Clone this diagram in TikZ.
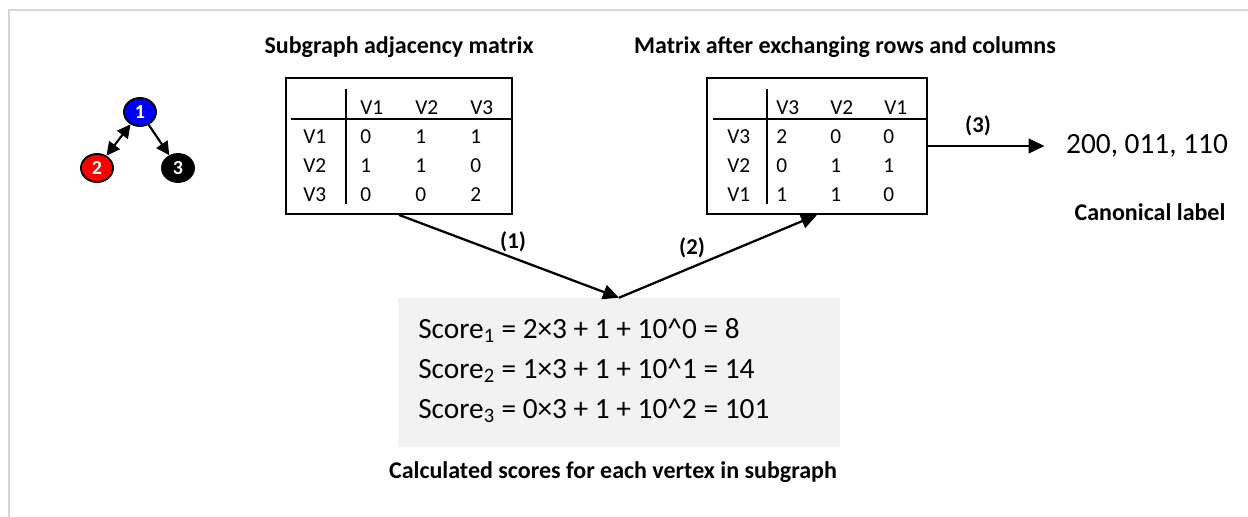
\documentclass[tikz,border=0pt]{standalone}
\usepackage{fontspec}
\setmainfont{Carlito}
\usetikzlibrary{arrows.meta,shapes.geometric}

\begin{document}
\begin{tikzpicture}[x=0.75pt,y=-0.75pt,
  frameline/.style={draw=black!16, line width=1.2pt},
  vtx/.style={ellipse, draw=black, line width=1.4pt, minimum width=24pt,
    minimum height=21pt, inner sep=0pt, text=white,
    font=\fontsize{15}{15}\selectfont\bfseries},
  gedge/.style={line width=1.6pt, -{Triangle[length=10pt,width=10pt]}},
  link/.style={line width=1.7pt, -{Triangle[length=12pt,width=11pt]}},
  tbl/.style={draw=black, line width=1.4pt, minimum width=#1, minimum height=102pt, inner sep=0pt},
  rule/.style={line width=1.4pt},
  cell/.style={anchor=base west, inner sep=0pt, font=\fontsize{16}{16}\selectfont},
  title/.style={anchor=base, inner sep=0pt, font=\fontsize{18}{18}\selectfont\bfseries},
  steplab/.style={inner sep=0pt, font=\fontsize{17}{17}\selectfont\bfseries},
  scoreline/.style={anchor=base west, inner sep=0pt, font=\fontsize{22}{22}\selectfont},
]
\useasboundingbox (0,0) rectangle (1248,517);

% outer frame
\draw[frameline] (9,517) -- (9,10) -- (1248,10);

% small example subgraph
\node[vtx, fill=blue] (v1) at (140,112) {1};
\node[vtx, fill=red]  (v2) at (97,168) {2};
\node[vtx, fill=black] (v3) at (178,168) {3};
\draw[gedge, {Triangle[length=10pt,width=10pt]}-{Triangle[length=10pt,width=10pt]}] (v1) -- (v2);
\draw[gedge] (v1) -- (v3);

% adjacency matrix
\node[title] (t1title) at (399,54) {Subgraph adjacency matrix};
\node[tbl=169.5pt] (t1) at (399,146) {};
\draw[rule] (346,89) -- (346,204);
\draw[rule] (291,119) -- (t1.east |- 0,119);
\foreach \h [count=\i] in {V1,V2,V3}
  \node[cell] at ({305+55*\i},114) {\h};
\foreach \lab/\a/\b/\c [count=\r] in {V1/0/1/1, V2/1/1/0, V3/0/0/2} {
  \pgfmathsetmacro{\yb}{114+29*\r}
  \node[cell] at (303,\yb) {\lab};
  \node[cell] at (360,\yb) {\a};
  \node[cell] at (415,\yb) {\b};
  \node[cell] at (470,\yb) {\c};
}

% reordered matrix
\node[title] (t2title) at (845,54) {Matrix after exchanging rows and columns};
\node[tbl=165pt] (t2) at (817,146) {};
\draw[rule] (767,89) -- (767,204);
\draw[rule] (713,119) -- (t2.east |- 0,119);
\foreach \h [count=\i] in {V3,V2,V1}
  \node[cell] at ({722+54*\i},114) {\h};
\foreach \lab/\a/\b/\c [count=\r] in {V3/2/0/0, V2/0/1/1, V1/1/1/0} {
  \pgfmathsetmacro{\yb}{114+29*\r}
  \node[cell] at (727,\yb) {\lab};
  \node[cell] at (776,\yb) {\a};
  \node[cell] at (830,\yb) {\b};
  \node[cell] at (883,\yb) {\c};
}

% vertex scores
\node[fill=black!5, minimum width=331.5pt, minimum height=111.75pt, inner sep=0pt] (s) at (619,372.5) {};
\node[scoreline] at (418,338) {Score\textsubscript{1} = 2×3 + 1 + 10\textasciicircum0 = 8};
\node[scoreline] at (418,378) {Score\textsubscript{2} = 1×3 + 1 + 10\textasciicircum1 = 14};
\node[scoreline] at (418,418) {Score\textsubscript{3} = 0×3 + 1 + 10\textasciicircum2 = 101};
\node[title] (stitle) at (613,478) {Calculated scores for each vertex in subgraph};

% canonical label
\node[inner sep=0pt, font=\fontsize{22}{22}\selectfont] (out) at (1147,146) {200, 011, 110};
\node[title] (outtitle) at (1150,220) {Canonical label};

% processing steps
\draw[link] (t1.south) -- (s.north);
\draw[link] (s.north) -- (t2.south);
\draw[link, shorten >=16pt] (t2.east) -- (out.west);
\node[steplab] at (513,242) {(1)};
\node[steplab] at (692,248) {(2)};
\node[steplab] at (978,126) {(3)};
\end{tikzpicture}
\end{document}
